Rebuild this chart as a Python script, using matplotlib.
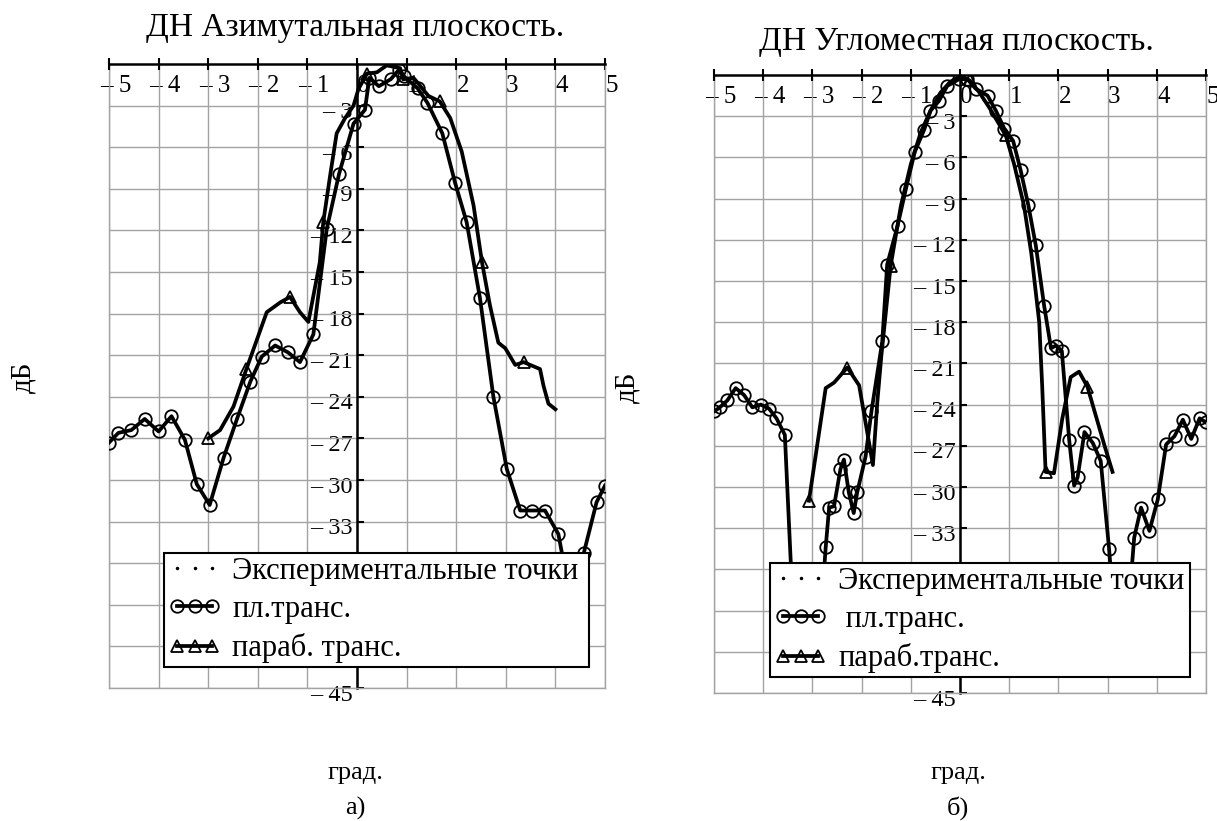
import matplotlib
matplotlib.use("Agg")
import matplotlib.pyplot as plt
from matplotlib.lines import Line2D
from matplotlib.transforms import offset_copy

plt.rcParams['font.family'] = ['Liberation Serif', 'DejaVu Serif']

X_TICKS = list(range(-5, 6))
Y_TICKS = list(range(-3, -46, -3))

TITLES = ["ДН Азимутальная плоскость.", "ДН Угломестная плоскость."]
PANEL_TAGS = ["а)", "б)"]
LEGEND_A = ["Экспериментальные точки", "пл.транс.", "параб. транс."]
LEGEND_B = ["Экспериментальные точки", " пл.транс.", "параб.транс."]

# a) azimuth plane: plane transition (circles)
AZ_PL_X = [-5.0, -4.81, -4.55, -4.28, -4.0, -3.74, -3.47, -3.23, -2.97, -2.69,
           -2.42, -2.15, -1.92, -1.65, -1.39, -1.15, -0.88, -0.61, -0.36, -0.07,
           0.16, 0.25, 0.44, 0.68, 0.85, 0.95, 1.22, 1.42, 1.72, 1.98,
           2.21, 2.48, 2.75, 3.02, 3.29, 3.52, 3.79, 4.06, 4.3, 4.57, 4.83, 5.0]
AZ_PL_Y = [-27.3, -26.6, -26.4, -25.6, -26.5, -25.4, -27.1, -30.3, -31.8, -28.4,
           -25.6, -22.9, -21.1, -20.3, -20.8, -21.5, -19.5, -11.9, -7.9, -4.3,
           -3.3, -1.0, -1.6, -1.1, -0.4, -0.9, -1.75, -2.8, -5.0, -8.6,
           -11.4, -16.9, -24.0, -29.2, -32.2, -32.2, -32.2, -33.9, -38.5, -35.3, -31.6, -30.4]

# a) azimuth plane: parabolic transition (triangles)
AZ_PAR_X = [-3.0, -2.76, -2.49, -2.23, -1.82, -1.55, -1.35, -1.15, -0.98, -0.75,
            -0.68, -0.54, -0.41, -0.24, -0.07, 0.03, 0.2, 0.4, 0.6, 0.87,
            0.93, 1.14, 1.44, 1.67, 1.88, 2.11, 2.35, 2.52, 2.68, 2.85,
            2.99, 3.19, 3.36, 3.69, 3.76, 3.86, 4.0]
AZ_PAR_Y = [-27.0, -26.4, -24.7, -22.0, -17.9, -17.2, -16.8, -17.9, -18.6, -14.3,
            -11.4, -8.0, -5.0, -3.9, -3.0, -1.8, -0.7, -0.6, -0.1, -0.3,
            -1.1, -1.0, -2.3, -2.7, -3.9, -6.3, -10.2, -14.3, -17.4, -20.1,
            -20.5, -21.7, -21.5, -22.0, -23.2, -24.5, -24.9]
AZ_PAR_MARK = [0, 3, 6, 10, 16, 20, 23, 27, 32]

# b) elevation plane: plane transition (circles)
EL_PL_X = [-5.0, -4.88, -4.73, -4.56, -4.39, -4.22, -4.05, -3.88, -3.73, -3.56,
           -3.42, -3.3, -2.85, -2.73, -2.66, -2.56, -2.43, -2.36, -2.26, -2.16,
           -2.09, -1.92, -1.8, -1.58, -1.48, -1.27, -1.1, -0.92, -0.73, -0.6,
           -0.43, -0.26, -0.02, 0.15, 0.32, 0.56, 0.73, 0.9, 1.08, 1.23,
           1.39, 1.54, 1.71, 1.85, 1.95, 2.07, 2.22, 2.32, 2.39, 2.53,
           2.7, 2.86, 3.03, 3.15, 3.4, 3.54, 3.68, 3.85, 4.02, 4.19,
           4.36, 4.53, 4.7, 4.87, 5.0]
EL_PL_Y = [-24.5, -24.2, -23.7, -22.8, -23.3, -24.2, -24.0, -24.3, -25.0, -26.2,
           -37.0, -41.0, -40.5, -34.4, -31.5, -31.4, -28.7, -28.0, -30.4, -31.9,
           -30.4, -27.8, -24.5, -19.4, -13.8, -11.0, -8.3, -5.6, -4.0, -2.6,
           -1.9, -0.8, -0.3, -0.3, -1.0, -1.5, -2.6, -3.9, -4.8, -6.9,
           -9.5, -12.4, -16.8, -19.9, -19.7, -20.1, -26.6, -29.9, -29.3, -26.0,
           -26.8, -28.1, -34.5, -40.0, -40.0, -33.7, -31.5, -33.2, -30.9, -26.9,
           -26.3, -25.1, -26.5, -25.0, -25.3]

# b) elevation plane: parabolic transition (triangles)
EL_PAR_X = [-3.07, -2.73, -2.56, -2.29, -2.05, -1.92, -1.77, -1.68, -1.6, -1.41,
            -1.2, -1.0, -0.8, -0.6, -0.4, -0.2, 0.0, 0.2, 0.4, 0.6,
            0.93, 1.1, 1.3, 1.45, 1.61, 1.67, 1.74, 1.91, 2.08, 2.25,
            2.42, 2.59, 2.76, 2.93, 3.1]
EL_PAR_Y = [-31.0, -22.8, -22.4, -21.3, -22.6, -25.3, -28.4, -23.8, -20.5, -13.9,
            -9.5, -6.5, -4.2, -2.6, -1.3, -0.5, -0.1, -0.4, -1.3, -2.4,
            -4.4, -6.5, -9.5, -13.0, -18.0, -22.6, -28.9, -29.0, -25.0, -22.0,
            -21.6, -22.7, -24.8, -26.9, -28.9]
EL_PAR_MARK = [0, 3, 9, 17, 20, 26, 31]

GRID = "#a3a3a3"
LW = 2.7
W, H = 1217, 821


def tick_text(v):
    return f"\u2013 {abs(v)}" if v < 0 else str(v)


def fx(px):
    return px / W


def fy(py):
    return 1 - py / H


def panel(fig, box, pl, par, par_mark, title, title_xy, tag, cx, ylab_xy,
          leg_labels, leg_px):
    x0, y0, x1, y1 = box
    ax = fig.add_axes([fx(x0), fy(y1), (x1 - x0) / W, (y1 - y0) / H])
    ax.set_xlim(-5, 5)
    ax.set_ylim(-45, 0)
    ax.set_xticks(X_TICKS)
    ax.set_yticks(Y_TICKS)
    ax.grid(color=GRID, linewidth=1.0, zorder=0)
    ax.xaxis.set_ticks_position("top")
    ax.tick_params(axis="x", direction="inout", length=8, width=1.5, color="black",
                   labeltop=False, labelbottom=False)
    ax.tick_params(axis="y", direction="in", length=5, width=1.5, color="black",
                   labelleft=False)
    ax.spines["left"].set_position(("data", 0))
    ax.spines["left"].set_linewidth(1.8)
    ax.spines["top"].set_linewidth(1.8)
    for s in ("right", "bottom"):
        ax.spines[s].set_color(GRID)
        ax.spines[s].set_linewidth(1.0)
    ax.axvline(-5, color=GRID, lw=1.0, clip_on=False, zorder=0)

    # Mathcad-style labels: centred a little right of each tick
    xt = offset_copy(ax.transData, fig=fig, x=6.5, y=-22, units="dots")
    for v in X_TICKS:
        ax.text(v, 0, tick_text(v), transform=xt, ha="center", va="center",
                fontsize=18, zorder=1)
    yt = offset_copy(ax.transData, fig=fig, x=-4, y=-7, units="dots")
    for v in Y_TICKS:
        ax.text(0, v, tick_text(v), transform=yt, ha="right", va="center",
                fontsize=17.5, zorder=1)

    ax.plot(pl[0], pl[1], color="black", lw=LW, marker="o", ms=9, mfc="none",
            mew=1.3, zorder=3)
    ax.plot(par[0], par[1], color="black", lw=LW, marker="^", ms=8.5, mfc="none",
            mew=1.3, markevery=par_mark, zorder=3)

    handles = [
        Line2D([], [], ls="none", marker=".", ms=3, color="black"),
        Line2D([], [], color="black", lw=LW, marker="o", ms=9, mfc="none", mew=1.3),
        Line2D([], [], color="black", lw=LW, marker="^", ms=8.5, mfc="none", mew=1.3),
    ]
    lx0, ly0, lx1, ly1 = leg_px
    leg = ax.legend(handles, leg_labels, loc="upper left",
                    bbox_to_anchor=(fx(lx0), fy(ly1), (lx1 - lx0) / W, (ly1 - ly0) / H),
                    bbox_transform=fig.transFigure, mode="expand", borderaxespad=0,
                    numpoints=3, fontsize=22, handlelength=1.75, handletextpad=0.36,
                    borderpad=0.13, labelspacing=0.3, fancybox=False,
                    framealpha=1, edgecolor="black")
    leg.get_frame().set_linewidth(1.5)
    leg.set_zorder(5)

    fig.text(fx(title_xy[0]), fy(title_xy[1]), title, ha="center",
             va="center", fontsize=24)
    fig.text(fx(ylab_xy[0]), fy(ylab_xy[1]), "дБ", rotation=90,
             ha="center", va="center", fontsize=21)
    fig.text(fx(cx), fy(773), "град.", ha="center", va="center", fontsize=19)
    fig.text(fx(cx), fy(808), tag, ha="center", va="center", fontsize=19)
    return ax


fig = plt.figure(figsize=(W / 100, H / 100), dpi=100, facecolor="white")

panel(fig, (109, 64, 605, 688),
      (AZ_PL_X, AZ_PL_Y), (AZ_PAR_X, AZ_PAR_Y), AZ_PAR_MARK,
      TITLES[0], (355, 28), PANEL_TAGS[0], 355, (23, 377), LEGEND_A,
      (164, 553, 589, 669))
panel(fig, (714, 75, 1206, 693),
      (EL_PL_X, EL_PL_Y), (EL_PAR_X, EL_PAR_Y), EL_PAR_MARK,
      TITLES[1], (956, 42), PANEL_TAGS[1], 958, (627, 387), LEGEND_B,
      (770, 563, 1190, 677))

fig.savefig("out.png", dpi=100, facecolor="white")
